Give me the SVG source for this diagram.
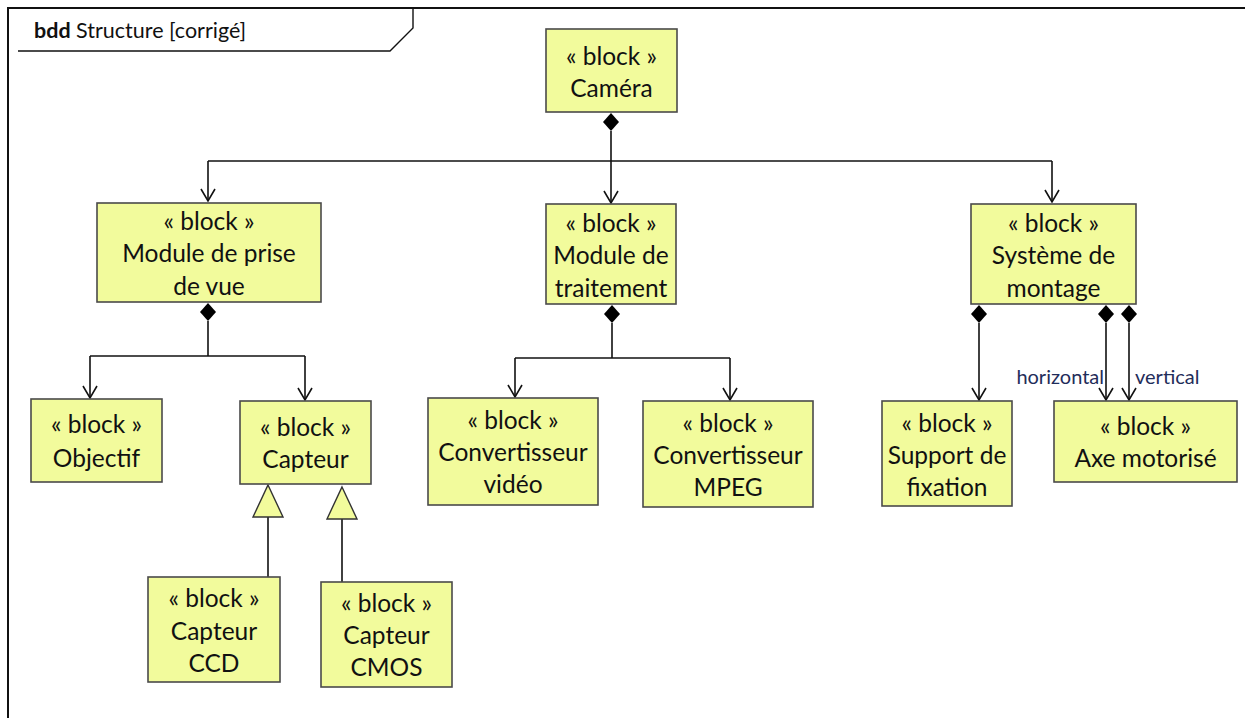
<svg xmlns="http://www.w3.org/2000/svg" width="1245" height="718" viewBox="0 0 1245 718">
<style>
.blk{fill:#f2fb9c;stroke:#4a4a4a;stroke-width:1.6}
.t{font-family:Lato,"Open Sans","Liberation Sans",sans-serif;font-size:24.5px;fill:#111;text-anchor:middle}
.ln{fill:none;stroke:#111;stroke-width:1.6}
.lbl{font-family:Lato,"Open Sans","Liberation Sans",sans-serif;font-size:20px;fill:#1f2d5a}
.dia{fill:#000}
.gen{fill:#f2fb9c;stroke:#333;stroke-width:1.4}
</style>
<defs>
<marker id="arr" markerWidth="20" markerHeight="20" refX="14" refY="10" orient="auto" markerUnits="userSpaceOnUse" viewBox="0 0 20 20">
<path d="M2,3 L14,10 L2,17" fill="none" stroke="#111" stroke-width="1.6"/>
</marker>
</defs>
<rect width="1245" height="718" fill="#fff"/>
<g id="frame">
<path d="M8,718 V8 H1245" fill="none" stroke="#111" stroke-width="2"/>
<path d="M18,51 H390 L413,28 V8" fill="none" stroke="#111" stroke-width="1.4"/>
<text x="34" y="38" style="font-family:Lato,'Open Sans','Liberation Sans',sans-serif;font-size:21.5px;fill:#111"><tspan font-weight="bold">bdd</tspan> Structure [corrigé]</text>
</g>
<g id="connectors">
<path class="ln" d="M611,131 V203" marker-end="url(#arr)"/>
<path class="ln" d="M208,161 H1052"/>
<path class="ln" d="M208,161 V201" marker-end="url(#arr)"/>
<path class="ln" d="M1052,161 V202" marker-end="url(#arr)"/>
<polygon class="dia" points="611,113 619,122 611,131 603,122"/>
<path class="ln" d="M208,321 V356"/>
<path class="ln" d="M90,356 H305"/>
<path class="ln" d="M90,356 V398" marker-end="url(#arr)"/>
<path class="ln" d="M305,356 V400" marker-end="url(#arr)"/>
<polygon class="dia" points="208,303 216,312 208,321 200,312"/>
<path class="ln" d="M612,323 V358"/>
<path class="ln" d="M515,358 H730"/>
<path class="ln" d="M515,358 V397" marker-end="url(#arr)"/>
<path class="ln" d="M730,358 V400" marker-end="url(#arr)"/>
<polygon class="dia" points="612,305 620,314 612,323 604,314"/>
<path class="ln" d="M979,323 V400" marker-end="url(#arr)"/>
<polygon class="dia" points="979,305 987,314 979,323 971,314"/>
<path class="ln" d="M1106,323 V400" marker-end="url(#arr)"/>
<polygon class="dia" points="1106,305 1114,314 1106,323 1098,314"/>
<path class="ln" d="M1129,323 V400" marker-end="url(#arr)"/>
<polygon class="dia" points="1129,305 1137,314 1129,323 1121,314"/>
<text class="lbl" x="1104" y="384" text-anchor="end">horizontal</text>
<text class="lbl" x="1135" y="384">vertical</text>
<path class="ln" d="M268,517 V577"/>
<polygon class="gen" points="268,485 283,517 253,517"/>
<path class="ln" d="M342,519 V582"/>
<polygon class="gen" points="342,487 357,519 327,519"/>
</g>
<g id="camera">
<rect class="blk" x="546" y="29" width="131" height="83"/>
<text class="t" x="611.5" y="65">« block »</text>
<text class="t" x="611.5" y="97">Caméra</text>
</g>
<g id="module-prise-de-vue">
<rect class="blk" x="97" y="203" width="224" height="99"/>
<text class="t" x="209" y="230">« block »</text>
<text class="t" x="209" y="262">Module de prise</text>
<text class="t" x="209" y="295">de vue</text>
</g>
<g id="module-traitement">
<rect class="blk" x="546" y="204" width="130" height="100"/>
<text class="t" x="611" y="232">« block »</text>
<text class="t" x="611" y="264">Module de</text>
<text class="t" x="611" y="297">traitement</text>
</g>
<g id="systeme-montage">
<rect class="blk" x="971" y="204" width="165" height="100"/>
<text class="t" x="1053.5" y="232">« block »</text>
<text class="t" x="1053.5" y="264">Système de</text>
<text class="t" x="1053.5" y="297">montage</text>
</g>
<g id="objectif">
<rect class="blk" x="31" y="399" width="131" height="83"/>
<text class="t" x="96.5" y="433">« block »</text>
<text class="t" x="96.5" y="467">Objectif</text>
</g>
<g id="capteur">
<rect class="blk" x="240" y="401" width="131" height="83"/>
<text class="t" x="305.5" y="436">« block »</text>
<text class="t" x="305.5" y="468">Capteur</text>
</g>
<g id="convertisseur-video">
<rect class="blk" x="428" y="398" width="170" height="107"/>
<text class="t" x="513" y="429">« block »</text>
<text class="t" x="513" y="461">Convertisseur</text>
<text class="t" x="513" y="493">vidéo</text>
</g>
<g id="convertisseur-mpeg">
<rect class="blk" x="643" y="401" width="170" height="106"/>
<text class="t" x="728" y="432">« block »</text>
<text class="t" x="728" y="464">Convertisseur</text>
<text class="t" x="728" y="496">MPEG</text>
</g>
<g id="support-fixation">
<rect class="blk" x="882" y="401" width="130" height="105"/>
<text class="t" x="947" y="432">« block »</text>
<text class="t" x="947" y="464">Support de</text>
<text class="t" x="947" y="496">fixation</text>
</g>
<g id="axe-motorise">
<rect class="blk" x="1054" y="401" width="183" height="81"/>
<text class="t" x="1145.5" y="435">« block »</text>
<text class="t" x="1145.5" y="467">Axe motorisé</text>
</g>
<g id="capteur-ccd">
<rect class="blk" x="148" y="577" width="132" height="105"/>
<text class="t" x="214" y="607">« block »</text>
<text class="t" x="214" y="640">Capteur</text>
<text class="t" x="214" y="672">CCD</text>
</g>
<g id="capteur-cmos">
<rect class="blk" x="321" y="582" width="131" height="105"/>
<text class="t" x="386.5" y="612">« block »</text>
<text class="t" x="386.5" y="644">Capteur</text>
<text class="t" x="386.5" y="676">CMOS</text>
</g>
</svg>
